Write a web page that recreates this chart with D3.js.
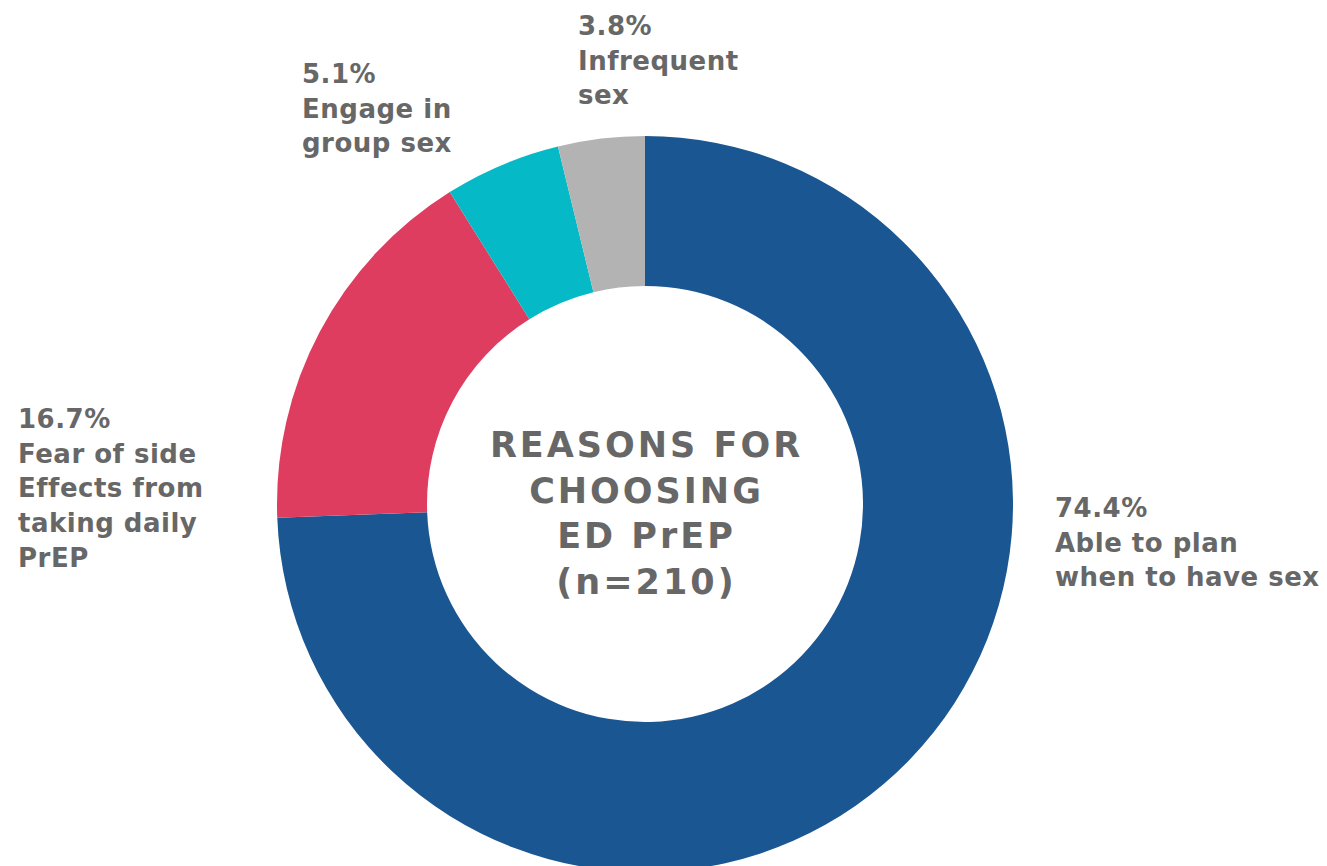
<!DOCTYPE html>
<html>
<head>
<meta charset="utf-8">
<script src="https://cdn.jsdelivr.net/npm/d3@7"></script>
<style>
  html, body { margin: 0; padding: 0; background: #ffffff; }
  svg { display: block; }
  text { font-family: "DejaVu Sans", sans-serif; font-weight: 700; fill: #676767; }
</style>
</head>
<body>
<svg id="chart" width="1327" height="866"></svg>
<script>
// Reasons for choosing event-driven PrEP (share of respondents, %)
const categories = ["Able to plan when to have sex", "Fear of side Effects from taking daily PrEP", "Engage in group sex", "Infrequent sex"];
const values = [74.4, 16.7, 5.1, 3.8];
const colors = ["#1a5792", "#de3d60", "#05bac6", "#b3b3b3"];
const labelLines = [
  ["Able to plan", "when to have sex"],
  ["Fear of side", "Effects from", "taking daily", "PrEP"],
  ["Engage in", "group sex"],
  ["Infrequent", "sex"]
];
const centerLines = ["REASONS FOR", "CHOOSING", "ED PrEP", "(n=210)"];

const svg = d3.select("#chart");
const cx = 645, cy = 504;
const outerR = 368, innerR = 218;

const data = categories.map((c, i) => ({ name: c, value: values[i], color: colors[i], lines: labelLines[i] }));

const pie = d3.pie().value(d => d.value).sort(null);
const arc = d3.arc().innerRadius(innerR).outerRadius(outerR);
const arcs = pie(data);

const g = svg.append("g").attr("transform", `translate(${cx},${cy})`);
g.selectAll("path")
  .data(arcs)
  .join("path")
  .attr("d", arc)
  .attr("fill", d => d.data.color);

// Label anchors (first baseline of each text block)
const labelPos = [
  { x: 1055, y: 517 },
  { x: 18, y: 428 },
  { x: 302, y: 83 },
  { x: 578, y: 35 }
];
const lineH = 34.7;
const labelSize = 26;

arcs.forEach((a, i) => {
  const t = svg.append("text")
    .attr("x", labelPos[i].x)
    .attr("y", labelPos[i].y)
    .style("font-size", labelSize + "px")
    .style("letter-spacing", "0.5px");
  const lines = [d3.format(".1f")(a.data.value) + "%"].concat(a.data.lines);
  lines.forEach((ln, j) => {
    t.append("tspan")
      .attr("x", labelPos[i].x)
      .attr("y", labelPos[i].y + j * lineH)
      .text(ln);
  });
});

// Centre title
const ct = svg.append("text")
  .attr("text-anchor", "middle")
  .style("font-size", "35px")
  .style("letter-spacing", "3px");
centerLines.forEach((ln, j) => {
  ct.append("tspan")
    .attr("x", cx + 1.5)
    .attr("y", 457 + j * 45.5)
    .text(ln);
});
</script>
</body>
</html>
